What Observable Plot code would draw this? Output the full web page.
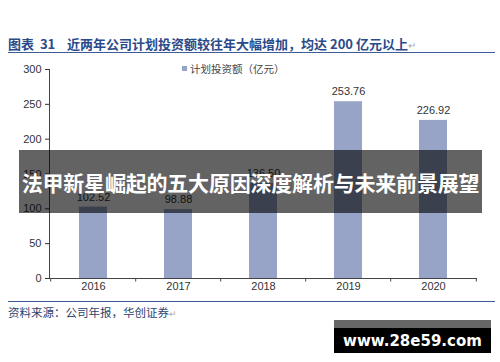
<!DOCTYPE html>
<html>
<head>
<meta charset="utf-8">
<script src="https://cdn.jsdelivr.net/npm/d3@7"></script>
<script src="https://cdn.jsdelivr.net/npm/@observablehq/plot@0.6"></script>
<style>
  html, body { margin: 0; padding: 0; background: #fff; }
  #root { position: relative; width: 500px; height: 362px; overflow: hidden; background: #fff; }
  .abs { position: absolute; }
  #title { left: 8px; top: 36px; font-family: "Noto Sans CJK SC", sans-serif; font-weight: bold; font-size: 13px; color: #2a4a8a; white-space: nowrap; line-height: 16px; }
  #title .ret { color: #aaa; font-weight: normal; font-size: 10px; }
  #titleRule { left: 8px; top: 52px; width: 487px; height: 0; border-top: 1.5px solid #3d5b97; }
  #legend { left: 182px; top: 62px; font-family: "Noto Sans CJK SC", sans-serif; font-size: 10.5px; color: #444; white-space: nowrap; line-height: 14px; }
  #legend .sw { display: inline-block; width: 5px; height: 5px; background: #97a4c8; margin-right: 3px; vertical-align: 2px; }
  #chart { left: 0; top: 60px; }
  #srcRule { left: 8px; top: 301px; width: 487px; height: 0; border-top: 1.5px solid #3d5b97; }
  #source { left: 8px; top: 304px; font-family: "Noto Sans CJK SC", sans-serif; font-size: 11.5px; color: #2d4470; white-space: nowrap; line-height: 16px; }
  #source .ret { color: #aaa; font-size: 9px; }
  #overlay { left: 19px; top: 150px; width: 463px; height: 63px; background: rgba(0,0,0,0.61); display: flex; align-items: center; justify-content: center; }
  #overlay span { font-family: "Noto Sans CJK SC", sans-serif; font-weight: bold; font-size: 21px; color: #fff; white-space: nowrap; letter-spacing: -0.2px; }
  #wm { left: 334px; top: 320px; width: 157px; height: 33px; background: #000; border-top: 8px solid #666; box-sizing: border-box; display: flex; align-items: center; justify-content: center; }
  #wm span { font-family: "DejaVu Sans", sans-serif; font-weight: bold; font-size: 15px; color: #fff; white-space: nowrap; margin-top: 1px; }
</style>
</head>
<body>
<div id="root">
  <div id="title" class="abs">图表&nbsp;&nbsp;31&nbsp;&nbsp;&nbsp;&nbsp;近两年公司计划投资额较往年大幅增加，均达 200 亿元以上<span class="ret">↵</span></div>
  <div id="titleRule" class="abs"></div>
  <div id="chart" class="abs"></div>
  <div id="legend" class="abs"><span class="sw"></span>计划投资额（亿元）</div>
  <div id="srcRule" class="abs"></div>
  <div id="source" class="abs">资料来源：公司年报，华创证券<span class="ret">↵</span></div>
  <div id="overlay" class="abs"><span>法甲新星崛起的五大原因深度解析与未来前景展望</span></div>
  <div id="wm" class="abs"><span>www.28e59.com</span></div>
</div>
<script>
const years = ["2016", "2017", "2018", "2019", "2020"];
const values = [102.52, 98.88, 136.5, 253.76, 226.92];
const valueLabels = ["102.52", "98.88", "136.50", "253.76", "226.92"];
const yTicks = [0, 50, 100, 150, 200, 250, 300];

const data = years.map((year, i) => ({year, value: values[i], label: valueLabels[i]}));

const W = 500, ML = 49, MR = 23;
const halfStep = (W - ML - MR) / years.length / 2;

const chart = Plot.plot({
  width: W,
  height: 240,
  marginLeft: ML,
  marginRight: MR,
  marginTop: 9,
  marginBottom: 22,
  style: {fontFamily: "'Liberation Sans', Arial, sans-serif", fontSize: "11px", color: "#333", background: "transparent"},
  x: {domain: years, paddingInner: 0.67, paddingOuter: 0.335, label: null, tickSize: 0, tickPadding: 4},
  y: {domain: [0, 300], ticks: yTicks, label: null, tickSize: 4, tickPadding: 4},
  marks: [
    Plot.barY(data, {x: "year", y: "value", fill: "#97a4c8"}),
    Plot.text(data, {x: "year", y: "value", text: "label", dy: -10, fill: "#333", fontSize: 11}),
    Plot.ruleY([0], {stroke: "#444"}),
    Plot.frame({anchor: "left", stroke: "#444"}),
    Plot.ruleX(years, {x: d => d, dx: -halfStep, y1: 0, y2: -5, stroke: "#444"}),
    Plot.ruleX([years[years.length - 1]], {x: d => d, dx: halfStep, y1: 0, y2: -5, stroke: "#444"})
  ]
});
document.getElementById("chart").appendChild(chart);
</script>
</body>
</html>
